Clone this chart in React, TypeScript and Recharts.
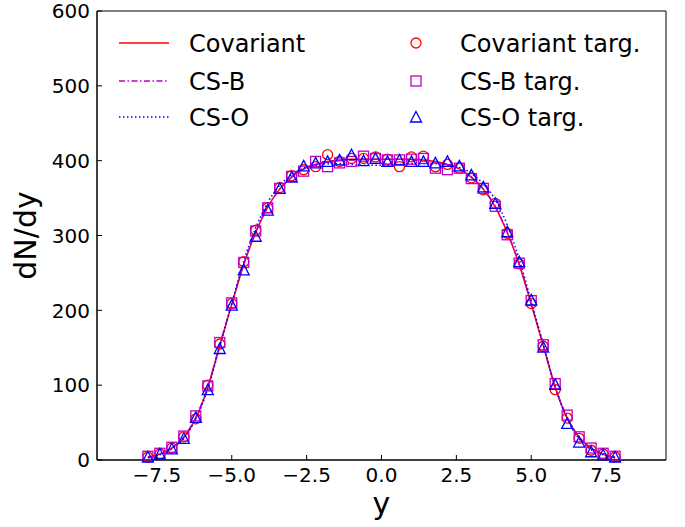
import { ComposedChart, Line, Scatter, XAxis, YAxis, ReferenceArea, Label } from "recharts";

// rapidity grid of the target points
const rapidity = [
  -7.8, -7.4, -7.0, -6.6, -6.2, -5.8, -5.4, -5.0, -4.6, -4.2,
  -3.8, -3.4, -3.0, -2.6, -2.2, -1.8, -1.4, -1.0, -0.6, -0.2,
  0.2, 0.6, 1.0, 1.4, 1.8, 2.2, 2.6, 3.0, 3.4, 3.8,
  4.2, 4.6, 5.0, 5.4, 5.8, 6.2, 6.6, 7.0, 7.4, 7.8,
];

// smooth curves
const covariantLine = [
  3, 8, 16, 30, 56, 97, 153, 208, 261, 304,
  338, 362, 378, 389, 395, 399, 401, 402, 402, 402,
  402, 402, 402, 401, 399, 395, 389, 378, 362, 338,
  304, 261, 208, 153, 97, 56, 30, 16, 8, 3,
];
const csbLine = [
  4, 8, 16, 31, 57, 98, 154, 209, 262, 304,
  338, 362, 378, 389, 395, 398, 400, 401, 402, 402,
  402, 402, 401, 400, 398, 395, 389, 378, 362, 339,
  304, 262, 209, 154, 98, 57, 31, 16, 8, 4,
];
const csoLine = [
  3, 7, 15, 29, 55, 95, 152, 209, 266, 310,
  344, 367, 381, 390, 394, 396, 396, 395, 394, 394,
  394, 395, 396, 396, 396, 394, 391, 383, 369, 348,
  314, 268, 212, 155, 98, 55, 28, 14, 7, 3,
];

// target points
const covariantTarg = [
  4, 8, 16, 31, 55, 100, 155, 209, 265, 307,
  337, 364, 380, 388, 392, 408, 399, 403, 403, 405,
  402, 392, 405, 406, 392, 395, 390, 377, 361, 343,
  303, 262, 209, 152, 94, 56, 29, 13, 8, 4,
];
const csbTarg = [
  5, 9, 17, 32, 59, 99, 157, 210, 264, 306,
  337, 363, 379, 386, 399, 392, 397, 399, 406, 403,
  401, 401, 402, 403, 390, 388, 390, 376, 363, 339,
  301, 263, 213, 154, 102, 60, 31, 16, 9, 5,
];
const csoTarg = [
  4, 8, 15, 29, 57, 94, 149, 207, 254, 299,
  334, 363, 378, 393, 397, 399, 401, 408, 400, 403,
  399, 401, 399, 399, 397, 399, 393, 381, 365, 343,
  305, 265, 214, 151, 101, 49, 24, 11, 7, 4,
];

const xTicks = [-7.5, -5, -2.5, 0, 2.5, 5, 7.5];
const yTicks = [0, 100, 200, 300, 400, 500, 600];

const RED = "#ff0000";
const MAG = "#bf00bf";
const BLUE = "#0000ff";
const FONT = "DejaVu Sans";

const pts = (ys: number[]) => rapidity.map((x, i) => ({ x, y: ys[i] }));

const fmtX = (v: number) => (v < 0 ? "\u2212" + Math.abs(v).toFixed(1) : v.toFixed(1));

const XTick = (props: any) => {
  const { x, y, payload } = props;
  return (
    <g>
      <line x1={x} y1={y} x2={x} y2={y - 5} stroke="#000" strokeWidth={1} />
      <text x={x} y={y + 22} textAnchor="middle" fontFamily={FONT} fontSize={20} fill="#000">
        {fmtX(payload.value)}
      </text>
    </g>
  );
};

const YTick = (props: any) => {
  const { x, y, payload } = props;
  return (
    <g>
      <line x1={x} y1={y} x2={x + 5} y2={y} stroke="#000" strokeWidth={1} />
      <text x={x - 7} y={y} dy="0.36em" textAnchor="end" fontFamily={FONT} fontSize={20} fill="#000">
        {payload.value}
      </text>
    </g>
  );
};

const CircleMark = ({ cx, cy }: any) => (
  <circle cx={cx} cy={cy} r={5} fill="none" stroke={RED} strokeWidth={1.3} />
);
const SquareMark = ({ cx, cy }: any) => (
  <rect x={cx - 5} y={cy - 5} width={10} height={10} fill="none" stroke={MAG} strokeWidth={1.3} />
);
const TriMark = ({ cx, cy }: any) => (
  <path
    d={`M${cx},${cy - 5.5} L${cx + 5.5},${cy + 5} L${cx - 5.5},${cy + 5} Z`}
    fill="none"
    stroke={BLUE}
    strokeWidth={1.3}
  />
);

function LegendOverlay() {
  const rows = [43, 81, 117];
  const txt = { fontFamily: FONT, fontSize: 24, fill: "#000" } as const;
  return (
    <svg
      width={685}
      height={527}
      style={{ position: "absolute", left: 0, top: 0, pointerEvents: "none" }}
    >
      <line x1={119} y1={rows[0]} x2={169} y2={rows[0]} stroke={RED} strokeWidth={1.5} />
      <line x1={119} y1={rows[1]} x2={169} y2={rows[1]} stroke={MAG} strokeWidth={1.5} strokeDasharray="6 2.5 1.5 2.5" />
      <line x1={119} y1={rows[2]} x2={169} y2={rows[2]} stroke={BLUE} strokeWidth={1.5} strokeDasharray="1.5 2.5" />
      <text x={189} y={rows[0]} dy="0.36em" {...txt}>Covariant</text>
      <text x={189} y={rows[1]} dy="0.36em" {...txt}>CS-B</text>
      <text x={189} y={rows[2]} dy="0.36em" {...txt}>CS-O</text>

      <CircleMark cx={416} cy={rows[0]} />
      <SquareMark cx={416} cy={rows[1]} />
      <TriMark cx={416} cy={rows[2]} />
      <text x={460} y={rows[0]} dy="0.36em" {...txt}>Covariant targ.</text>
      <text x={460} y={rows[1]} dy="0.36em" {...txt}>CS-B targ.</text>
      <text x={460} y={rows[2]} dy="0.36em" {...txt}>CS-O targ.</text>
    </svg>
  );
}

export default function App() {
  return (
    <div style={{ position: "absolute", left: 0, top: 0, width: 685, height: 527, background: "#fff" }}>
      <ComposedChart width={685} height={527} margin={{ top: 11, right: 19, left: 0, bottom: 0 }}>
        <XAxis
          dataKey="x"
          type="number"
          domain={[-9.5, 9.5]}
          ticks={xTicks}
          interval={0}
          tickSize={0}
          tickMargin={0}
          tickLine={false}
          tick={<XTick />}
          height={67}
          axisLine={{ stroke: "#000" }}
        >
          <Label
            content={({ viewBox }: any) => (
              <text
                x={viewBox.x + viewBox.width / 2}
                y={viewBox.y + 54}
                textAnchor="middle"
                fontFamily={FONT}
                fontSize={30}
                fill="#000"
              >
                y
              </text>
            )}
          />
        </XAxis>
        <YAxis
          type="number"
          domain={[0, 600]}
          ticks={yTicks}
          interval={0}
          tickSize={0}
          tickMargin={0}
          tickLine={false}
          tick={<YTick />}
          width={97}
          axisLine={{ stroke: "#000" }}
        >
          <Label
            content={({ viewBox }: any) => {
              const cx = 36;
              const cy = viewBox.y + viewBox.height / 2;
              return (
                <text
                  x={cx}
                  y={cy}
                  transform={`rotate(-90 ${cx} ${cy})`}
                  textAnchor="middle"
                  fontFamily={FONT}
                  fontSize={30}
                  fill="#000"
                >
                  dN/dy
                </text>
              );
            }}
          />
        </YAxis>

        <Line data={pts(covariantLine)} dataKey="y" type="monotone" stroke={RED} strokeWidth={1.5} dot={false} isAnimationActive={false} />
        <Line data={pts(csbLine)} dataKey="y" type="monotone" stroke={MAG} strokeWidth={1.5} strokeDasharray="6 2.5 1.5 2.5" dot={false} isAnimationActive={false} />
        <Line data={pts(csoLine)} dataKey="y" type="monotone" stroke={BLUE} strokeWidth={1.5} strokeDasharray="1.5 2.5" dot={false} isAnimationActive={false} />

        <Scatter data={pts(covariantTarg)} dataKey="y" shape={<CircleMark />} isAnimationActive={false} />
        <Scatter data={pts(csbTarg)} dataKey="y" shape={<SquareMark />} isAnimationActive={false} />
        <Scatter data={pts(csoTarg)} dataKey="y" shape={<TriMark />} isAnimationActive={false} />

        <ReferenceArea x1={-9.5} x2={9.5} y1={0} y2={600} fill="none" stroke="#000" strokeWidth={1} ifOverflow="visible" />
      </ComposedChart>
      <LegendOverlay />
    </div>
  );
}
